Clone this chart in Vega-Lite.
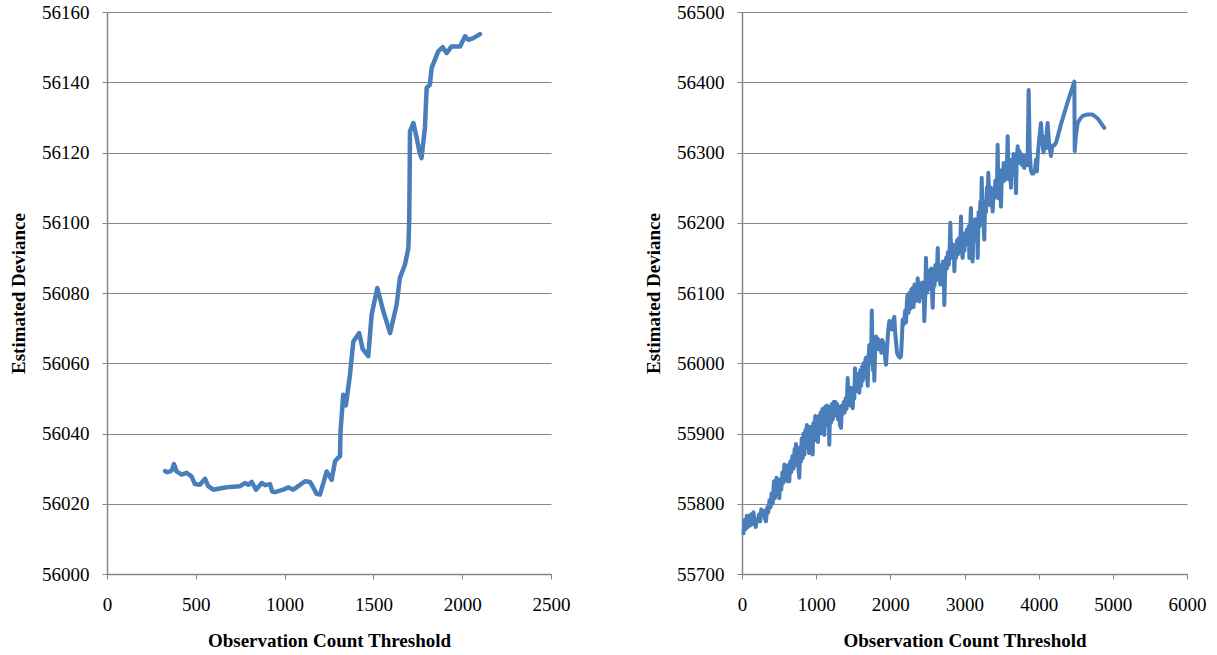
{
  "$schema": "https://vega.github.io/schema/vega-lite/v6.json",
  "padding": {"left": 9, "top": 3, "right": 5, "bottom": 5},
  "background": "white",
  "spacing": 74,
  "config": {
    "view": {"stroke": null},
    "font": "Liberation Serif",
    "axis": {
      "domainColor": "#868686",
      "tickColor": "#868686",
      "gridColor": "#868686",
      "domainWidth": 1.5,
      "tickSize": 5,
      "labelFont": "Liberation Serif",
      "labelFontSize": 19,
      "labelColor": "#000000",
      "titleFont": "Liberation Serif",
      "titleFontSize": 19,
      "titleFontWeight": "bold",
      "titleColor": "#000000",
      "labelFlush": false,
      "labelOverlap": false
    },
    "axisX": {"grid": false, "labelPadding": 16, "titlePadding": 17},
    "axisY": {"grid": true, "labelPadding": 13, "titlePadding": 13}
  },
  "datasets": {
    "left": [
      {"t": 327, "d": 56029.3}, {"t": 340, "d": 56029.0}, {"t": 355, "d": 56029.2}, {"t": 365, "d": 56029.5},
      {"t": 377, "d": 56031.3}, {"t": 392, "d": 56029.2}, {"t": 420, "d": 56028.3}, {"t": 448, "d": 56028.8},
      {"t": 476, "d": 56027.8}, {"t": 495, "d": 56025.6}, {"t": 523, "d": 56025.4}, {"t": 552, "d": 56027.1},
      {"t": 570, "d": 56025.0}, {"t": 599, "d": 56024.0}, {"t": 650, "d": 56024.5}, {"t": 693, "d": 56024.8},
      {"t": 749, "d": 56025.0}, {"t": 777, "d": 56025.9}, {"t": 796, "d": 56025.4}, {"t": 815, "d": 56026.2},
      {"t": 839, "d": 56024.0}, {"t": 871, "d": 56025.9}, {"t": 890, "d": 56025.3}, {"t": 918, "d": 56025.6},
      {"t": 930, "d": 56023.5}, {"t": 946, "d": 56023.3}, {"t": 993, "d": 56024.0}, {"t": 1021, "d": 56024.7},
      {"t": 1049, "d": 56024.0}, {"t": 1077, "d": 56025.0}, {"t": 1115, "d": 56026.4}, {"t": 1143, "d": 56026.2},
      {"t": 1161, "d": 56024.7}, {"t": 1180, "d": 56022.8}, {"t": 1199, "d": 56022.6}, {"t": 1218, "d": 56025.9},
      {"t": 1237, "d": 56029.2}, {"t": 1265, "d": 56026.8}, {"t": 1284, "d": 56032.1}, {"t": 1300, "d": 56033.0},
      {"t": 1312, "d": 56033.5}, {"t": 1315, "d": 56040.6}, {"t": 1330, "d": 56051.0}, {"t": 1345, "d": 56048.0},
      {"t": 1368, "d": 56056.7}, {"t": 1387, "d": 56066.2}, {"t": 1420, "d": 56068.6}, {"t": 1440, "d": 56064.0},
      {"t": 1471, "d": 56062.0}, {"t": 1490, "d": 56073.8}, {"t": 1522, "d": 56081.4}, {"t": 1556, "d": 56074.8},
      {"t": 1594, "d": 56068.6}, {"t": 1631, "d": 56076.7}, {"t": 1649, "d": 56084.3}, {"t": 1678, "d": 56088.1},
      {"t": 1697, "d": 56092.8}, {"t": 1702, "d": 56101.4}, {"t": 1706, "d": 56126.0}, {"t": 1725, "d": 56128.4},
      {"t": 1744, "d": 56124.1}, {"t": 1760, "d": 56120.0}, {"t": 1771, "d": 56118.4}, {"t": 1790, "d": 56127.0},
      {"t": 1800, "d": 56138.4}, {"t": 1818, "d": 56139.3}, {"t": 1828, "d": 56144.1}, {"t": 1865, "d": 56148.8},
      {"t": 1890, "d": 56150.0}, {"t": 1912, "d": 56148.3}, {"t": 1940, "d": 56150.2}, {"t": 1988, "d": 56150.2},
      {"t": 2016, "d": 56153.1}, {"t": 2034, "d": 56152.1}, {"t": 2060, "d": 56152.5}, {"t": 2100, "d": 56153.7}
    ],
    "right": [
      {"t": 20, "d": 55758}, {"t": 35, "d": 55777}, {"t": 50, "d": 55764}, {"t": 65, "d": 55783}, {"t": 80, "d": 55767},
      {"t": 95, "d": 55783}, {"t": 110, "d": 55769}, {"t": 125, "d": 55785}, {"t": 140, "d": 55771}, {"t": 155, "d": 55788},
      {"t": 170, "d": 55773}, {"t": 185, "d": 55767}, {"t": 200, "d": 55777}, {"t": 215, "d": 55777}, {"t": 230, "d": 55785},
      {"t": 245, "d": 55775}, {"t": 260, "d": 55792}, {"t": 279, "d": 55785}, {"t": 295, "d": 55790}, {"t": 310, "d": 55778},
      {"t": 324, "d": 55775}, {"t": 340, "d": 55795}, {"t": 355, "d": 55788}, {"t": 370, "d": 55805}, {"t": 385, "d": 55795},
      {"t": 400, "d": 55815}, {"t": 415, "d": 55800}, {"t": 430, "d": 55832}, {"t": 445, "d": 55808}, {"t": 455, "d": 55825},
      {"t": 465, "d": 55837}, {"t": 480, "d": 55815}, {"t": 490, "d": 55830}, {"t": 503, "d": 55808}, {"t": 515, "d": 55835},
      {"t": 530, "d": 55820}, {"t": 545, "d": 55845}, {"t": 560, "d": 55830}, {"t": 571, "d": 55856}, {"t": 585, "d": 55835},
      {"t": 600, "d": 55850}, {"t": 615, "d": 55832}, {"t": 625, "d": 55855}, {"t": 638, "d": 55832}, {"t": 650, "d": 55860},
      {"t": 665, "d": 55845}, {"t": 680, "d": 55868}, {"t": 695, "d": 55850}, {"t": 710, "d": 55878}, {"t": 720, "d": 55862},
      {"t": 728, "d": 55885}, {"t": 740, "d": 55855}, {"t": 752, "d": 55880}, {"t": 762, "d": 55850}, {"t": 773, "d": 55837},
      {"t": 785, "d": 55880}, {"t": 795, "d": 55860}, {"t": 805, "d": 55893}, {"t": 818, "d": 55865}, {"t": 830, "d": 55900},
      {"t": 842, "d": 55870}, {"t": 855, "d": 55905}, {"t": 865, "d": 55880}, {"t": 875, "d": 55912}, {"t": 885, "d": 55885},
      {"t": 895, "d": 55910}, {"t": 905, "d": 55872}, {"t": 915, "d": 55905}, {"t": 928, "d": 55880}, {"t": 940, "d": 55910},
      {"t": 953, "d": 55870}, {"t": 963, "d": 55915}, {"t": 975, "d": 55890}, {"t": 988, "d": 55925}, {"t": 1000, "d": 55895},
      {"t": 1012, "d": 55920}, {"t": 1024, "d": 55888}, {"t": 1036, "d": 55925}, {"t": 1048, "d": 55905}, {"t": 1060, "d": 55930},
      {"t": 1072, "d": 55900}, {"t": 1084, "d": 55935}, {"t": 1096, "d": 55905}, {"t": 1110, "d": 55898}, {"t": 1122, "d": 55938},
      {"t": 1134, "d": 55912}, {"t": 1146, "d": 55940}, {"t": 1158, "d": 55915}, {"t": 1170, "d": 55938}, {"t": 1177, "d": 55884},
      {"t": 1188, "d": 55935}, {"t": 1200, "d": 55915}, {"t": 1212, "d": 55942}, {"t": 1224, "d": 55920}, {"t": 1236, "d": 55945},
      {"t": 1248, "d": 55925}, {"t": 1260, "d": 55945}, {"t": 1272, "d": 55930}, {"t": 1284, "d": 55942}, {"t": 1296, "d": 55920},
      {"t": 1308, "d": 55938}, {"t": 1320, "d": 55912}, {"t": 1335, "d": 55908}, {"t": 1348, "d": 55940}, {"t": 1360, "d": 55928},
      {"t": 1372, "d": 55945}, {"t": 1384, "d": 55930}, {"t": 1396, "d": 55950}, {"t": 1410, "d": 55935}, {"t": 1425, "d": 55979},
      {"t": 1436, "d": 55945}, {"t": 1448, "d": 55960}, {"t": 1460, "d": 55940}, {"t": 1472, "d": 55965}, {"t": 1484, "d": 55945},
      {"t": 1493, "d": 55936}, {"t": 1505, "d": 55965}, {"t": 1515, "d": 55950}, {"t": 1523, "d": 55993}, {"t": 1535, "d": 55960},
      {"t": 1548, "d": 55975}, {"t": 1560, "d": 55962}, {"t": 1572, "d": 55985}, {"t": 1582, "d": 55958}, {"t": 1594, "d": 55990},
      {"t": 1606, "d": 55968}, {"t": 1618, "d": 55995}, {"t": 1627, "d": 55975}, {"t": 1640, "d": 56000}, {"t": 1652, "d": 55980},
      {"t": 1664, "d": 56005}, {"t": 1672, "d": 56008}, {"t": 1684, "d": 55985}, {"t": 1695, "d": 55968}, {"t": 1705, "d": 56005},
      {"t": 1717, "d": 56026}, {"t": 1728, "d": 56005}, {"t": 1740, "d": 56000}, {"t": 1750, "d": 56075}, {"t": 1758, "d": 56020},
      {"t": 1766, "d": 55990}, {"t": 1775, "d": 56035}, {"t": 1784, "d": 55975}, {"t": 1795, "d": 56015}, {"t": 1807, "d": 56038},
      {"t": 1818, "d": 56025}, {"t": 1830, "d": 56035}, {"t": 1842, "d": 56020}, {"t": 1854, "d": 56032}, {"t": 1866, "d": 56028},
      {"t": 1878, "d": 56015}, {"t": 1890, "d": 56033}, {"t": 1902, "d": 56030}, {"t": 1915, "d": 56020}, {"t": 1928, "d": 56010},
      {"t": 1942, "d": 55998}, {"t": 1955, "d": 56020}, {"t": 1970, "d": 56045}, {"t": 1986, "d": 56060}, {"t": 1998, "d": 56050},
      {"t": 2010, "d": 56055}, {"t": 2022, "d": 56048}, {"t": 2040, "d": 56062}, {"t": 2054, "d": 56066}, {"t": 2065, "d": 56045},
      {"t": 2076, "d": 56031}, {"t": 2090, "d": 56015}, {"t": 2110, "d": 56010}, {"t": 2130, "d": 56008}, {"t": 2144, "d": 56010},
      {"t": 2156, "d": 56035}, {"t": 2166, "d": 56062}, {"t": 2178, "d": 56055}, {"t": 2188, "d": 56062}, {"t": 2200, "d": 56075},
      {"t": 2212, "d": 56058}, {"t": 2224, "d": 56090}, {"t": 2234, "d": 56098}, {"t": 2246, "d": 56072}, {"t": 2258, "d": 56100},
      {"t": 2270, "d": 56078}, {"t": 2282, "d": 56105}, {"t": 2294, "d": 56085}, {"t": 2301, "d": 56107}, {"t": 2313, "d": 56080},
      {"t": 2325, "d": 56112}, {"t": 2337, "d": 56088}, {"t": 2349, "d": 56110}, {"t": 2358, "d": 56095}, {"t": 2369, "d": 56121},
      {"t": 2380, "d": 56100}, {"t": 2392, "d": 56088}, {"t": 2404, "d": 56112}, {"t": 2416, "d": 56095}, {"t": 2428, "d": 56115},
      {"t": 2440, "d": 56100}, {"t": 2450, "d": 56112}, {"t": 2458, "d": 56060}, {"t": 2470, "d": 56095}, {"t": 2481, "d": 56150},
      {"t": 2492, "d": 56100}, {"t": 2504, "d": 56125}, {"t": 2516, "d": 56105}, {"t": 2528, "d": 56132}, {"t": 2540, "d": 56110},
      {"t": 2552, "d": 56135}, {"t": 2562, "d": 56100}, {"t": 2571, "d": 56079}, {"t": 2583, "d": 56125}, {"t": 2595, "d": 56110},
      {"t": 2607, "d": 56140}, {"t": 2619, "d": 56118}, {"t": 2629, "d": 56135}, {"t": 2639, "d": 56164}, {"t": 2650, "d": 56120},
      {"t": 2662, "d": 56138}, {"t": 2674, "d": 56112}, {"t": 2686, "d": 56140}, {"t": 2698, "d": 56120}, {"t": 2710, "d": 56145},
      {"t": 2720, "d": 56125}, {"t": 2728, "d": 56083}, {"t": 2740, "d": 56132}, {"t": 2752, "d": 56150}, {"t": 2764, "d": 56135},
      {"t": 2776, "d": 56158}, {"t": 2788, "d": 56140}, {"t": 2800, "d": 56165}, {"t": 2809, "d": 56200}, {"t": 2820, "d": 56150},
      {"t": 2832, "d": 56170}, {"t": 2844, "d": 56152}, {"t": 2856, "d": 56168}, {"t": 2863, "d": 56131}, {"t": 2875, "d": 56165},
      {"t": 2887, "d": 56150}, {"t": 2899, "d": 56175}, {"t": 2911, "d": 56155}, {"t": 2923, "d": 56178}, {"t": 2935, "d": 56160},
      {"t": 2945, "d": 56180}, {"t": 2953, "d": 56209}, {"t": 2963, "d": 56160}, {"t": 2975, "d": 56150}, {"t": 2987, "d": 56178},
      {"t": 2999, "d": 56160}, {"t": 3010, "d": 56185}, {"t": 3020, "d": 56169}, {"t": 3032, "d": 56190}, {"t": 3044, "d": 56170},
      {"t": 3056, "d": 56195}, {"t": 3066, "d": 56150}, {"t": 3077, "d": 56195}, {"t": 3087, "d": 56221}, {"t": 3098, "d": 56180},
      {"t": 3110, "d": 56145}, {"t": 3122, "d": 56190}, {"t": 3134, "d": 56175}, {"t": 3146, "d": 56205}, {"t": 3158, "d": 56180},
      {"t": 3170, "d": 56200}, {"t": 3178, "d": 56150}, {"t": 3190, "d": 56215}, {"t": 3202, "d": 56195}, {"t": 3214, "d": 56230},
      {"t": 3224, "d": 56210}, {"t": 3232, "d": 56264}, {"t": 3243, "d": 56215}, {"t": 3255, "d": 56200}, {"t": 3267, "d": 56176},
      {"t": 3278, "d": 56230}, {"t": 3290, "d": 56215}, {"t": 3302, "d": 56250}, {"t": 3312, "d": 56230}, {"t": 3321, "d": 56271},
      {"t": 3333, "d": 56235}, {"t": 3345, "d": 56225}, {"t": 3357, "d": 56250}, {"t": 3369, "d": 56230}, {"t": 3380, "d": 56216},
      {"t": 3392, "d": 56245}, {"t": 3404, "d": 56235}, {"t": 3416, "d": 56260}, {"t": 3428, "d": 56240}, {"t": 3440, "d": 56265},
      {"t": 3447, "d": 56311}, {"t": 3458, "d": 56235}, {"t": 3470, "d": 56270}, {"t": 3482, "d": 56250}, {"t": 3492, "d": 56223},
      {"t": 3504, "d": 56275}, {"t": 3516, "d": 56258}, {"t": 3528, "d": 56285}, {"t": 3540, "d": 56260}, {"t": 3552, "d": 56282},
      {"t": 3564, "d": 56265}, {"t": 3574, "d": 56290}, {"t": 3582, "d": 56323}, {"t": 3594, "d": 56262}, {"t": 3606, "d": 56290},
      {"t": 3618, "d": 56270}, {"t": 3627, "d": 56250}, {"t": 3639, "d": 56290}, {"t": 3651, "d": 56268}, {"t": 3663, "d": 56298},
      {"t": 3675, "d": 56275}, {"t": 3685, "d": 56290}, {"t": 3694, "d": 56242}, {"t": 3705, "d": 56290}, {"t": 3717, "d": 56309},
      {"t": 3729, "d": 56288}, {"t": 3741, "d": 56302}, {"t": 3753, "d": 56285}, {"t": 3765, "d": 56298}, {"t": 3777, "d": 56282},
      {"t": 3790, "d": 56295}, {"t": 3806, "d": 56278}, {"t": 3820, "d": 56295}, {"t": 3835, "d": 56285}, {"t": 3850, "d": 56282},
      {"t": 3865, "d": 56389}, {"t": 3880, "d": 56300}, {"t": 3895, "d": 56275}, {"t": 3910, "d": 56270}, {"t": 3930, "d": 56270},
      {"t": 3950, "d": 56275}, {"t": 3965, "d": 56290}, {"t": 3977, "d": 56273}, {"t": 3990, "d": 56300}, {"t": 4010, "d": 56322},
      {"t": 4031, "d": 56342}, {"t": 4050, "d": 56315}, {"t": 4065, "d": 56300}, {"t": 4080, "d": 56322}, {"t": 4099, "d": 56306},
      {"t": 4110, "d": 56330}, {"t": 4121, "d": 56342}, {"t": 4140, "d": 56312}, {"t": 4166, "d": 56295}, {"t": 4185, "d": 56310},
      {"t": 4210, "d": 56310}, {"t": 4234, "d": 56314}, {"t": 4300, "d": 56340}, {"t": 4400, "d": 56375}, {"t": 4481, "d": 56401},
      {"t": 4486, "d": 56302}, {"t": 4500, "d": 56322}, {"t": 4526, "d": 56342}, {"t": 4560, "d": 56348}, {"t": 4594, "d": 56352},
      {"t": 4650, "d": 56354}, {"t": 4728, "d": 56354}, {"t": 4800, "d": 56348}, {"t": 4885, "d": 56335}
    ]
  },
  "hconcat": [
    {
      "width": 444,
      "height": 562,
      "data": {"name": "left"},
      "mark": {"type": "line", "color": "#4a7ebb", "strokeWidth": 4.5, "strokeJoin": "round", "strokeCap": "round"},
      "encoding": {
        "x": {"field": "t", "type": "quantitative", "title": "Observation Count Threshold",
              "scale": {"domain": [0, 2500], "nice": false, "zero": false},
              "axis": {"values": [0, 500, 1000, 1500, 2000, 2500], "format": "d"}},
        "y": {"field": "d", "type": "quantitative", "title": "Estimated Deviance",
              "scale": {"domain": [56000, 56160], "nice": false, "zero": false},
              "axis": {"values": [56000, 56020, 56040, 56060, 56080, 56100, 56120, 56140, 56160], "format": "d"}}
      }
    },
    {
      "width": 445,
      "height": 562,
      "data": {"name": "right"},
      "mark": {"type": "line", "color": "#4a7ebb", "strokeWidth": 4, "strokeJoin": "round", "strokeCap": "round"},
      "encoding": {
        "x": {"field": "t", "type": "quantitative", "title": "Observation Count Threshold",
              "scale": {"domain": [0, 6000], "nice": false, "zero": false},
              "axis": {"values": [0, 1000, 2000, 3000, 4000, 5000, 6000], "format": "d"}},
        "y": {"field": "d", "type": "quantitative", "title": "Estimated Deviance",
              "scale": {"domain": [55700, 56500], "nice": false, "zero": false},
              "axis": {"values": [55700, 55800, 55900, 56000, 56100, 56200, 56300, 56400, 56500], "format": "d"}}
      }
    }
  ]
}
